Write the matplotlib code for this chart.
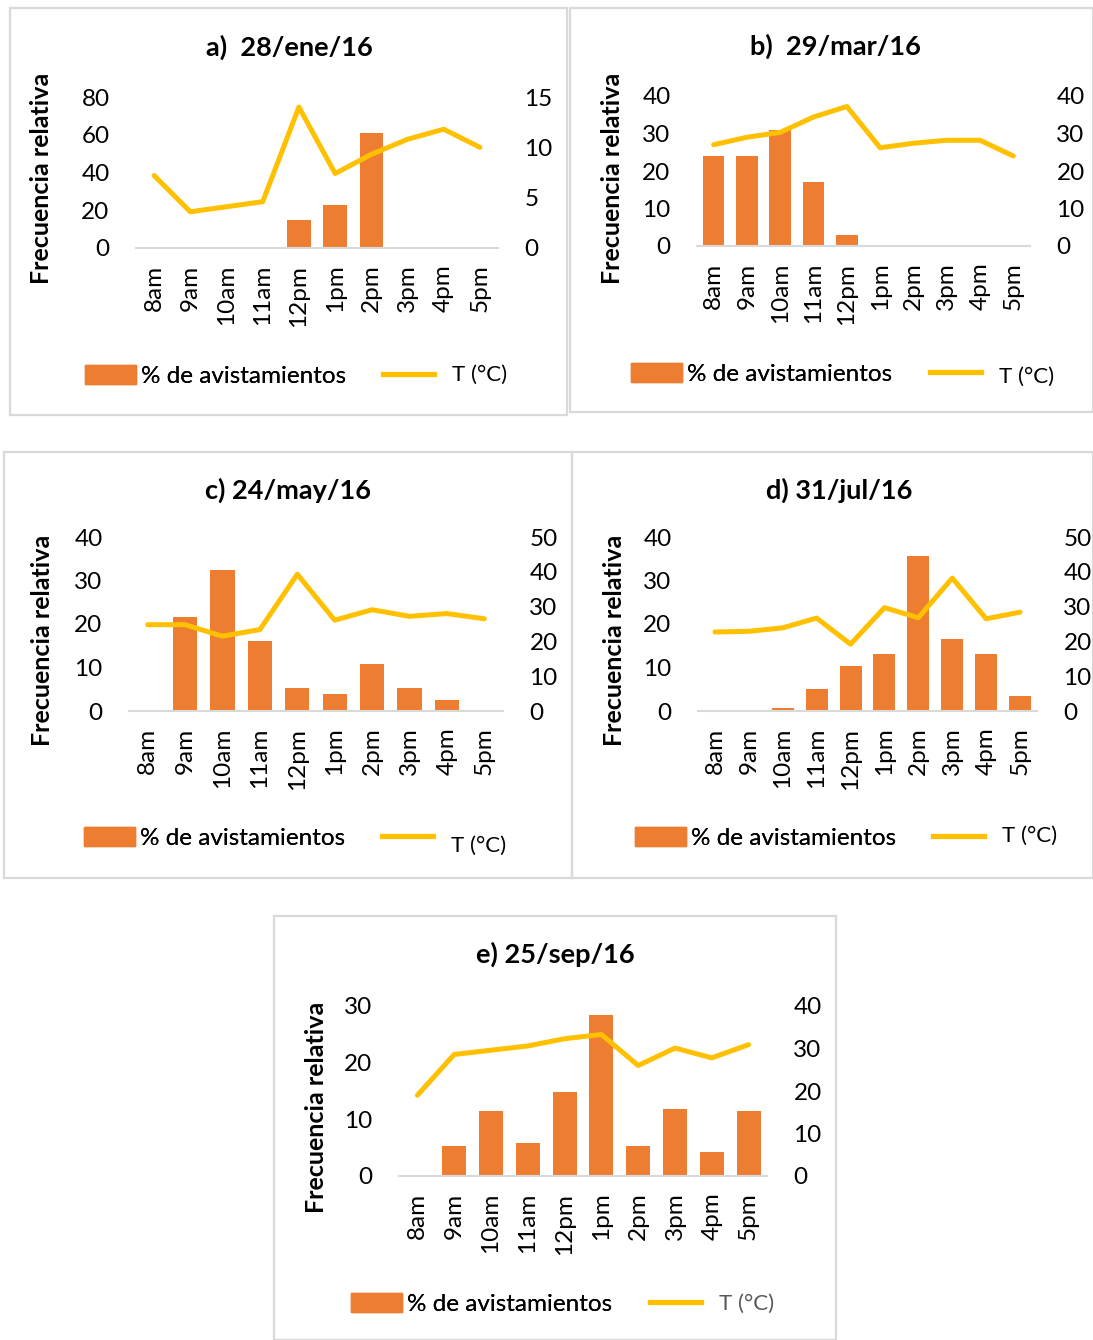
import matplotlib
matplotlib.use("Agg")
import matplotlib.pyplot as plt
from matplotlib.patches import Rectangle, Patch
from matplotlib.lines import Line2D

plt.rcParams["font.family"] = ["Lato", "DejaVu Sans"]

W, H = 1093, 1340

hours = ["8am", "9am", "10am", "11am", "12pm", "1pm", "2pm", "3pm", "4pm", "5pm"]

ene_pct = [0, 0, 0, 0, 15, 23, 61, 0, 0, 0]
ene_temp = [7.2, 3.6, 4.1, 4.6, 14.0, 7.4, 9.3, 10.8, 11.8, 10.0]

mar_pct = [24, 24, 31, 17, 3, 0, 0, 0, 0, 0]
mar_temp = [27.0, 29.0, 30.3, 34.4, 37.2, 26.2, 27.4, 28.2, 28.2, 24.0]

may_pct = [0, 21.5, 32.3, 16.1, 5.3, 4.0, 10.7, 5.3, 2.5, 0]
may_temp = [24.8, 24.8, 21.5, 23.4, 39.3, 26.1, 29.1, 27.2, 28.0, 26.5]

jul_pct = [0, 0, 0.7, 5.1, 10.3, 13.0, 35.7, 16.5, 13.0, 3.4]
jul_temp = [22.7, 22.9, 23.9, 26.7, 19.2, 29.7, 26.8, 38.2, 26.5, 28.4]

sep_pct = [0, 5.3, 11.4, 5.8, 14.9, 28.5, 5.3, 11.9, 4.2, 11.4]
sep_temp = [19.0, 28.6, 29.6, 30.6, 32.3, 33.3, 26.0, 30.1, 27.8, 30.9]

BAR = "#ED7D31"
LINE = "#FFC000"
GRID = "#D9D9D9"
FS = 17.5


def fx(x):
    return x / W


def fy(y):
    return 1 - y / H


def panel(fig, box, area, title, title_xy, ylab_xy, pct, temp, lticks, rticks, key):
    # frame round the whole panel
    x0, y0, x1, y1 = box
    fig.patches.append(Rectangle((fx(x0), fy(y1)), fx(x1 - x0), (y1 - y0) / H,
                                 transform=fig.transFigure, fill=False,
                                 edgecolor=GRID, lw=1.6, zorder=0))

    left, top, right, bottom = area
    ax = fig.add_axes([fx(left), fy(bottom), fx(right - left), (bottom - top) / H])
    ax.bar(range(len(hours)), pct, width=0.65, color=BAR, zorder=2)
    ax.set_xlim(-0.5, len(hours) - 0.5)
    ax.set_ylim(lticks[0], lticks[-1])
    ax.set_yticks(lticks)
    ax.set_xticks(range(len(hours)))
    ax.set_xticklabels(hours, rotation=90, ha="center", va="top")
    ax.tick_params(axis="x", length=0, pad=12, labelsize=FS)
    ax.tick_params(axis="y", length=0, pad=19, labelsize=FS)
    for s in ["top", "left", "right"]:
        ax.spines[s].set_visible(False)
    ax.spines["bottom"].set_color(GRID)
    ax.spines["bottom"].set_linewidth(1.5)

    axb = ax.twinx()
    axb.plot(range(len(hours)), temp, color=LINE, lw=3.6,
             solid_capstyle="round", solid_joinstyle="round")
    axb.set_ylim(rticks[0], rticks[-1])
    axb.set_yticks(rticks)
    axb.tick_params(axis="y", length=0, pad=19, labelsize=FS)
    for s in axb.spines.values():
        s.set_visible(False)

    fig.text(fx(title_xy[0]), fy(title_xy[1]), title, ha="center", va="center",
             fontsize=19.5, fontweight="bold")
    fig.text(fx(ylab_xy[0]), fy(ylab_xy[1]), "Frecuencia relativa", rotation=90,
             ha="center", va="center", fontsize=18, fontweight="bold")

    # legend: bar key and line key placed separately
    bx, ly, lx, ty, tcol = key
    leg1 = fig.legend(handles=[Patch(color=BAR)], labels=["% de avistamientos"],
                      loc="center left", bbox_to_anchor=(fx(bx), fy(ly)),
                      frameon=False, fontsize=FS, handlelength=2.1, handleheight=0.8,
                      handletextpad=0.2, borderpad=0, borderaxespad=0)
    fig.legend(handles=[Line2D([], [], color=LINE, lw=3.8)], labels=[""],
               loc="center left", bbox_to_anchor=(fx(lx), fy(ly)),
               frameon=False, fontsize=FS, handlelength=2.1,
               handletextpad=0, borderpad=0, borderaxespad=0)
    fig.add_artist(leg1)
    fig.text(fx(lx + 69), fy(ty), "T (°C)", ha="left", va="center", fontsize=16, color=tcol)
    return ax, axb


if __name__ == "__main__":
    fig = plt.figure(figsize=(W / 100, H / 100), dpi=100)

    panel(fig, (10, 8, 567, 415), (136, 97, 498, 248), "a)  28/ene/16", (289, 47), (42, 178),
          ene_pct, ene_temp, [0, 20, 40, 60, 80], [0, 5, 10, 15],
          (85, 376, 383, 375, "black"))
    panel(fig, (570, 8, 1093, 412), (697, 96, 1030, 246), "b)  29/mar/16", (835, 46), (612, 178),
          mar_pct, mar_temp, [0, 10, 20, 30, 40], [0, 10, 20, 30, 40],
          (631, 374, 930, 377, "black"))
    panel(fig, (4, 452, 572, 878), (129, 537, 503, 711), "c) 24/may/16", (288, 490), (43, 640),
          may_pct, may_temp, [0, 10, 20, 30, 40], [0, 10, 20, 30, 40, 50],
          (84, 838, 382, 846, "black"))
    panel(fig, (572, 452, 1093, 878), (698, 537, 1037, 711), "d) 31/jul/16", (839, 490), (614, 640),
          jul_pct, jul_temp, [0, 10, 20, 30, 40], [0, 10, 20, 30, 40, 50],
          (635, 838, 933, 836, "black"))
    panel(fig, (274, 916, 836, 1340), (399, 1006, 767, 1176), "e) 25/sep/16", (555, 954), (316, 1107),
          sep_pct, sep_temp, [0, 10, 20, 30], [0, 10, 20, 30, 40],
          (351, 1304, 650, 1304, "#595959"))

    plt.savefig("out.png", dpi=100)
    plt.close(fig)
